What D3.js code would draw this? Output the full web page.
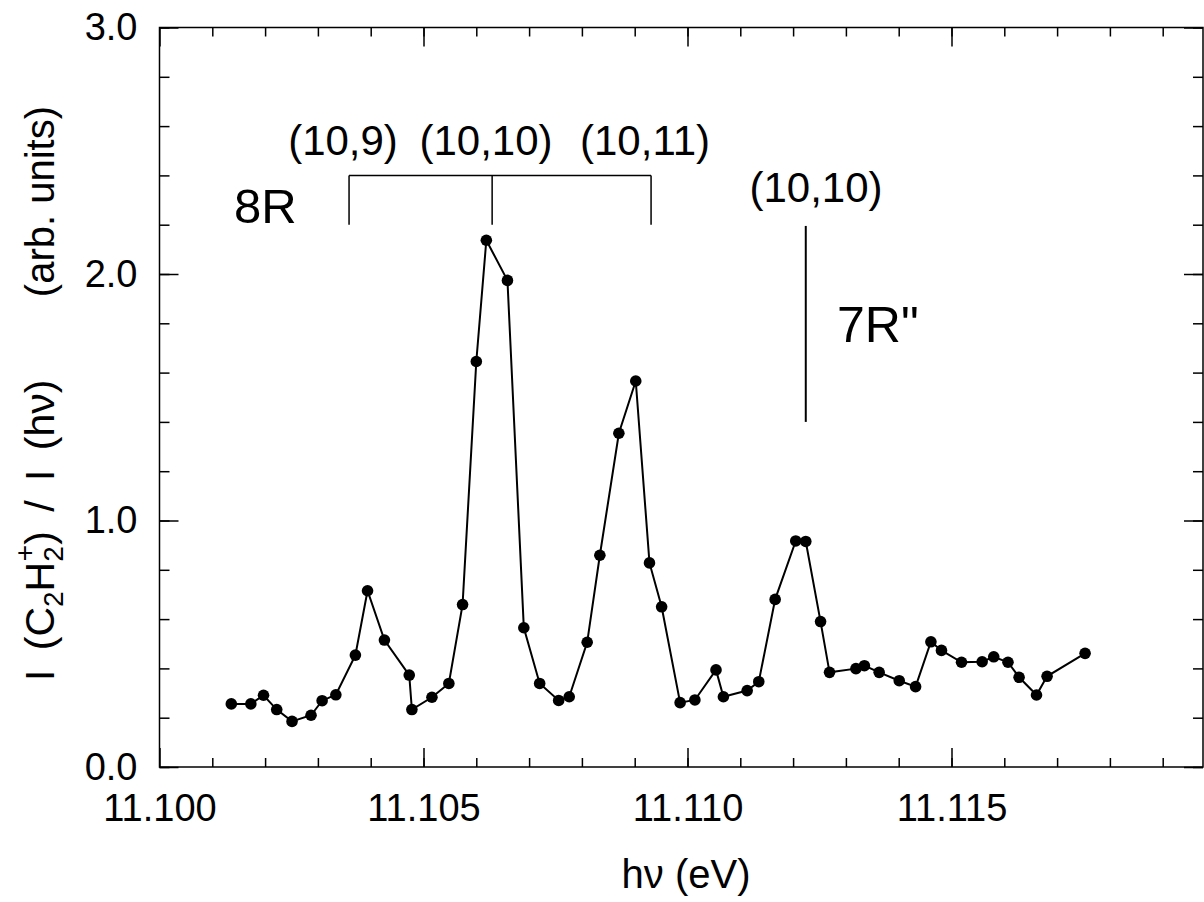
<!DOCTYPE html>
<html>
<head>
<meta charset="utf-8">
<script src="https://cdn.jsdelivr.net/npm/d3@7"></script>
<style>
  body { margin: 0; background: #fff; }
  text { font-family: "Liberation Sans", Arial, sans-serif; fill: #000; }
</style>
</head>
<body>
<script>
var width = 1204;
var height = 902;

// photon energy (eV) and normalised ion yield
var energy = [11.10136, 11.10173, 11.10197, 11.10222, 11.10251, 11.10287, 11.10308, 11.10334,
  11.10371, 11.10394, 11.10426, 11.10473, 11.10478, 11.10516, 11.10548, 11.10574,
  11.10600, 11.10619, 11.10659, 11.10690, 11.10720, 11.10756, 11.10776, 11.10810,
  11.10834, 11.10870, 11.10902, 11.10928, 11.10951, 11.10986, 11.11014, 11.11054,
  11.11068, 11.11113, 11.11135, 11.11166, 11.11205, 11.11224, 11.11252, 11.11269,
  11.11319, 11.11335, 11.11363, 11.11401, 11.11432, 11.11461, 11.11481, 11.11519,
  11.11558, 11.11580, 11.11607, 11.11628, 11.11661, 11.11681, 11.11753];
var yieldRatio = [0.256, 0.256, 0.291, 0.233, 0.185, 0.210, 0.269, 0.293,
  0.454, 0.715, 0.515, 0.373, 0.233, 0.283, 0.339, 0.659,
  1.645, 2.137, 1.974, 0.565, 0.339, 0.270, 0.285, 0.506,
  0.859, 1.354, 1.566, 0.828, 0.650, 0.261, 0.272, 0.394,
  0.285, 0.310, 0.346, 0.680, 0.917, 0.915, 0.590, 0.384,
  0.399, 0.411, 0.384, 0.350, 0.326, 0.508, 0.473, 0.425,
  0.427, 0.447, 0.425, 0.364, 0.292, 0.368, 0.461];

var xMajor = [11.100, 11.105, 11.110, 11.115];
var xMinor = d3.range(1, 20).map(function(i) { return 11.100 + i * 0.001; });
var yMajor = [0, 1, 2, 3];
var yMinor = d3.range(0, 16).map(function(i) { return i * 0.2; });

// assignment bracket (8R) and single line (7R")
var bracketX = [11.10359, 11.10630, 11.10931];
var bracketTop = 2.4, bracketBottom = 2.2;
var bracketLabels = ["(10,9)", "(10,10)", "(10,11)"];
var lineX = 11.11224;
var lineTop = 2.195, lineBottom = 1.40;

var data = energy.map(function(e, i) { return {x: e, y: yieldRatio[i]}; });

var plot = {left: 159.5, right: 1203, top: 27.5, bottom: 767};

var xScale = d3.scaleLinear()
  .domain([11.100, 11.100 + (plot.right - plot.left) / 52.8 * 0.001])
  .range([plot.left, plot.right]);

var yScale = d3.scaleLinear()
  .domain([0, 3])
  .range([plot.bottom, plot.top]);

var svg = d3.select("body")
  .append("svg")
  .attr("width", width)
  .attr("height", height);

// frame
svg.append("rect")
  .attr("x", plot.left).attr("y", plot.top)
  .attr("width", plot.right - plot.left).attr("height", plot.bottom - plot.top)
  .attr("fill", "none").attr("stroke", "#000").attr("stroke-width", 1.5);

function styleAxis(g) {
  g.select(".domain").remove();
  g.selectAll("line").attr("stroke", "#000").attr("stroke-width", 1.5);
  g.selectAll("text")
    .style("font-family", "'Liberation Sans', Arial, sans-serif")
    .style("font-size", "38px")
    .attr("fill", "#000");
}

// bottom axis
svg.append("g")
  .attr("transform", "translate(0," + plot.bottom + ")")
  .call(d3.axisBottom(xScale).tickValues(xMinor).tickSize(-9).tickFormat(""))
  .call(styleAxis);
svg.append("g")
  .attr("transform", "translate(0," + plot.bottom + ")")
  .call(d3.axisBottom(xScale).tickValues(xMajor).tickSize(-19).tickPadding(27)
    .tickFormat(d3.format(".3f")))
  .call(styleAxis)
  .selectAll("text").attr("dy", "0.71em");

// top axis
svg.append("g")
  .attr("transform", "translate(0," + plot.top + ")")
  .call(d3.axisTop(xScale).tickValues(xMinor).tickSize(-9).tickFormat(""))
  .call(styleAxis);
svg.append("g")
  .attr("transform", "translate(0," + plot.top + ")")
  .call(d3.axisTop(xScale).tickValues(xMajor).tickSize(-19).tickFormat(""))
  .call(styleAxis);

// left axis
svg.append("g")
  .attr("transform", "translate(" + plot.left + ",0)")
  .call(d3.axisLeft(yScale).tickValues(yMinor).tickSize(-10).tickFormat(""))
  .call(styleAxis);
svg.append("g")
  .attr("transform", "translate(" + plot.left + ",0)")
  .call(d3.axisLeft(yScale).tickValues(yMajor).tickSize(-19).tickPadding(22)
    .tickFormat(d3.format(".1f")))
  .call(styleAxis);

// right axis
svg.append("g")
  .attr("transform", "translate(" + plot.right + ",0)")
  .call(d3.axisRight(yScale).tickValues(yMinor).tickSize(-10).tickFormat(""))
  .call(styleAxis);
svg.append("g")
  .attr("transform", "translate(" + plot.right + ",0)")
  .call(d3.axisRight(yScale).tickValues(yMajor).tickSize(-19).tickFormat(""))
  .call(styleAxis);

// data
var line = d3.line()
  .x(function(d) { return xScale(d.x); })
  .y(function(d) { return yScale(d.y); });

svg.append("path")
  .datum(data)
  .attr("d", line)
  .attr("fill", "none")
  .attr("stroke", "#000")
  .attr("stroke-width", 2);

svg.selectAll("circle")
  .data(data)
  .enter()
  .append("circle")
  .attr("cx", function(d) { return xScale(d.x); })
  .attr("cy", function(d) { return yScale(d.y); })
  .attr("r", 5.8)
  .attr("fill", "#000");

// bracket
var ann = svg.append("g").attr("stroke", "#000").attr("stroke-width", 1.5);
ann.append("line")
  .attr("x1", xScale(bracketX[0])).attr("x2", xScale(bracketX[2]))
  .attr("y1", yScale(bracketTop)).attr("y2", yScale(bracketTop));
bracketX.forEach(function(bx) {
  ann.append("line")
    .attr("x1", xScale(bx)).attr("x2", xScale(bx))
    .attr("y1", yScale(bracketTop)).attr("y2", yScale(bracketBottom));
});
ann.append("line")
  .attr("x1", xScale(lineX)).attr("x2", xScale(lineX))
  .attr("y1", yScale(lineTop)).attr("y2", yScale(lineBottom))
  .attr("stroke-width", 2);

var labelCenters = [343, 486, 645];
bracketLabels.forEach(function(t, i) {
  svg.append("text")
    .attr("x", labelCenters[i]).attr("y", 155)
    .attr("text-anchor", "middle")
    .style("font-size", "42px")
    .text(t);
});
svg.append("text")
  .attr("x", 816).attr("y", 202)
  .attr("text-anchor", "middle")
  .style("font-size", "42px")
  .text("(10,10)");
svg.append("text")
  .attr("x", 234).attr("y", 223)
  .style("font-size", "49px")
  .text("8R");
svg.append("text")
  .attr("x", 837).attr("y", 342)
  .style("font-size", "50px")
  .text("7R\"");

// axis titles
svg.append("text")
  .attr("x", 686).attr("y", 888)
  .attr("text-anchor", "middle")
  .style("font-size", "40px")
  .text("h\u03bd (eV)");

var yt = svg.append("text")
  .attr("transform", "translate(54,681) rotate(-90)")
  .style("font-size", "41px")
  .style("word-spacing", "8px");
yt.append("tspan").text("I (C");
yt.append("tspan").attr("dy", 9).style("font-size", "28px").text("2");
yt.append("tspan").attr("dy", -9).text("H");
yt.append("tspan").attr("dy", 9).style("font-size", "28px").text("2");
yt.append("tspan").attr("dy", -29).attr("dx", -15).style("font-size", "28px").text("+");
yt.append("tspan").attr("dy", 20).text(") / I (h\u03bd)");

svg.append("text")
  .attr("transform", "translate(54,106) rotate(-90)")
  .attr("text-anchor", "end")
  .style("font-size", "40px")
  .text("(arb. units)");
</script>
</body>
</html>
